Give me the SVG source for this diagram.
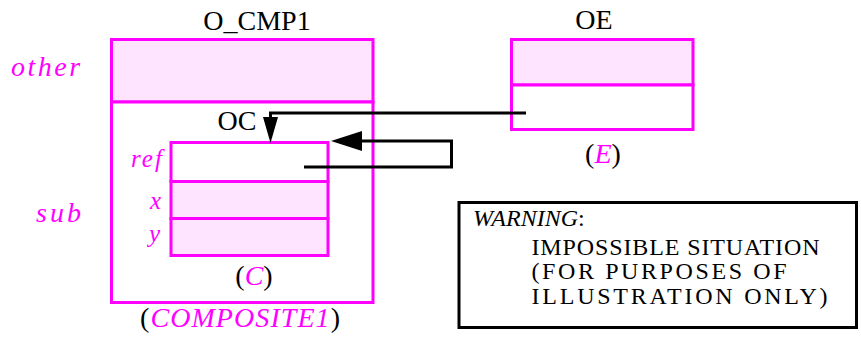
<svg xmlns="http://www.w3.org/2000/svg" width="861" height="339" viewBox="0 0 861 339">
<style>
.sh{fill:#ffe4ff;stroke:#ff00ff;stroke-width:3}
.wh{fill:#ffffff;stroke:#ff00ff;stroke-width:3}
text{font-family:'Liberation Serif','Times New Roman','DejaVu Serif',serif}
.t{font-size:28px;fill:#000}
.m{fill:#ff00ff}
.i{font-style:italic}
.lbl{font-style:italic;fill:#ff00ff}
.w{font-size:24px;fill:#000}
.c{fill:none;stroke:#000;stroke-width:3}
.ah{fill:#000;stroke:none}
</style>
<rect width="861" height="339" fill="#ffffff"/>
<g id="O_CMP1">
<rect class="sh" x="111.5" y="39.5" width="261.5" height="62.5"/>
<rect class="wh" x="111.5" y="102" width="261.5" height="200.5"/>
<text class="t" x="257" y="30" text-anchor="middle">O_CMP1</text>
<text class="lbl" x="11" y="76" font-size="28" letter-spacing="2.5">other</text>
<text class="lbl" x="36" y="222" font-size="28" letter-spacing="3">sub</text>
<text class="t" x="140" y="327" textLength="200" lengthAdjust="spacing">(<tspan class="m i">COMPOSITE1</tspan>)</text>
</g>
<g id="OC">
<text class="t" x="237" y="130" text-anchor="middle">OC</text>
<rect class="wh" x="171" y="142.5" width="157" height="39"/>
<rect class="sh" x="171" y="181.5" width="157" height="37"/>
<rect class="sh" x="171" y="218.5" width="157" height="37"/>
<text class="lbl" x="131" y="167" font-size="25" letter-spacing="2">ref</text>
<text class="lbl" x="150" y="209" font-size="25">x</text>
<text class="lbl" x="149" y="242" font-size="25">y</text>
<text class="t" x="254" y="285" text-anchor="middle">(<tspan class="m i">C</tspan>)</text>
</g>
<g id="OE">
<text class="t" x="594" y="29" text-anchor="middle">OE</text>
<rect class="sh" x="511.5" y="39.5" width="181.5" height="45.5"/>
<rect class="wh" x="511.5" y="85" width="181.5" height="44.5"/>
<text class="t" x="603" y="163" text-anchor="middle">(<tspan class="m i">E</tspan>)</text>
</g>
<g id="warning">
<rect x="459" y="202.5" width="397.5" height="125" fill="#ffffff" stroke="#000" stroke-width="3"/>
<text class="w" x="473" y="226"><tspan class="i">WARNING</tspan>:</text>
<text class="w" x="531.5" y="255" textLength="288" lengthAdjust="spacing">IMPOSSIBLE SITUATION</text>
<text class="w" x="531.5" y="279" textLength="255" lengthAdjust="spacing">(FOR PURPOSES OF</text>
<text class="w" x="531.5" y="303.5" textLength="296" lengthAdjust="spacing">ILLUSTRATION ONLY)</text>
</g>
<g id="connectors">
<polyline class="c" points="526,113 270.5,113 270.5,120"/>
<polygon class="ah" points="263,117 278,117 270.5,143"/>
<polyline class="c" points="360,141 451.5,141 451.5,167 304,167"/>
<polygon class="ah" points="331,141 362,131 362,151"/>
</g>
</svg>
